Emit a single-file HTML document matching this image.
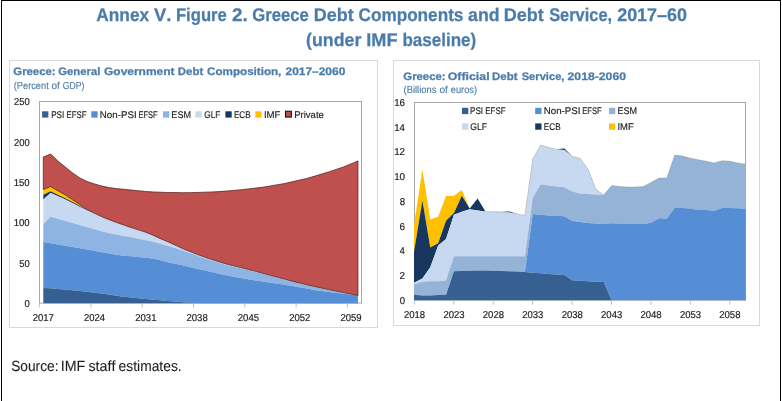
<!DOCTYPE html>
<html lang="en">
<head>
<meta charset="utf-8">
<title>Annex V. Figure 2. Greece Debt Components and Debt Service, 2017–60</title>
<style>
html,body{margin:0;padding:0;background:#fff;}
body{width:782px;height:401px;overflow:hidden;}
svg{display:block;font-family:"Liberation Sans",Arial,Helvetica,sans-serif;font-kerning:none;text-rendering:geometricPrecision;}
</style>
</head>
<body>
<svg width="782" height="401" viewBox="0 0 782 401">
<rect x="0" y="0" width="782" height="401" fill="#fff"/>
<rect x="1" y="0" width="1" height="401" fill="#000"/>
<rect x="780" y="0" width="1" height="401" fill="#000"/>
<rect x="1" y="0" width="780" height="1" fill="#000"/>
<text y="20.9" font-size="18.3" font-weight="bold" fill="#4A7BAA" stroke="#4A7BAA" stroke-width="0.25"><tspan x="96.37" textLength="52.76" lengthAdjust="spacingAndGlyphs">Annex</tspan> <tspan x="153.97" textLength="17.39" lengthAdjust="spacingAndGlyphs">V.</tspan> <tspan x="175.88" textLength="50.99" lengthAdjust="spacingAndGlyphs">Figure</tspan> <tspan x="232.05" textLength="15.76" lengthAdjust="spacingAndGlyphs">2.</tspan> <tspan x="252.22" textLength="56.55" lengthAdjust="spacingAndGlyphs">Greece</tspan> <tspan x="313.8" textLength="39.92" lengthAdjust="spacingAndGlyphs">Debt</tspan> <tspan x="358.5" textLength="104.91" lengthAdjust="spacingAndGlyphs">Components</tspan> <tspan x="468.08" textLength="31.49" lengthAdjust="spacingAndGlyphs">and</tspan> <tspan x="503.7" textLength="40.02" lengthAdjust="spacingAndGlyphs">Debt</tspan> <tspan x="549.13" textLength="62.97" lengthAdjust="spacingAndGlyphs">Service,</tspan> <tspan x="617.18" textLength="69.76" lengthAdjust="spacingAndGlyphs">2017–60</tspan></text>
<text y="45.9" font-size="18.3" font-weight="bold" fill="#4A7BAA" stroke="#4A7BAA" stroke-width="0.25"><tspan x="306.12" textLength="55.25" lengthAdjust="spacingAndGlyphs">(under</tspan> <tspan x="366.28" textLength="31.28" lengthAdjust="spacingAndGlyphs">IMF</tspan> <tspan x="402.38" textLength="73.87" lengthAdjust="spacingAndGlyphs">baseline)</tspan></text>
<rect x="9.5" y="60.5" width="368" height="267" fill="#fff" stroke="#D9D9D9" stroke-width="1"/>
<rect x="393.5" y="60.5" width="366" height="265" fill="#fff" stroke="#D9D9D9" stroke-width="1"/>
<text y="74.6" font-size="10.9" font-weight="bold" fill="#4A7BAA" stroke="#4A7BAA" stroke-width="0.25"><tspan x="13.33" textLength="42.26" lengthAdjust="spacingAndGlyphs">Greece:</tspan> <tspan x="58.34" textLength="41.96" lengthAdjust="spacingAndGlyphs">General</tspan> <tspan x="104.01" textLength="70.54" lengthAdjust="spacingAndGlyphs">Government</tspan> <tspan x="177.84" textLength="25.4" lengthAdjust="spacingAndGlyphs">Debt</tspan> <tspan x="207.12" textLength="74.25" lengthAdjust="spacingAndGlyphs">Composition,</tspan> <tspan x="285.49" textLength="59.8" lengthAdjust="spacingAndGlyphs">2017–2060</tspan></text>
<text y="89.2" font-size="10.1" fill="#4E7AA6" stroke="#4E7AA6" stroke-width="0.12"><tspan x="13.73" textLength="35.04" lengthAdjust="spacingAndGlyphs">(Percent</tspan> <tspan x="51.48" textLength="8.41" lengthAdjust="spacingAndGlyphs">of</tspan> <tspan x="62.76" textLength="21.67" lengthAdjust="spacingAndGlyphs">GDP)</tspan></text>
<text y="79.8" font-size="10.9" font-weight="bold" fill="#4A7BAA" stroke="#4A7BAA" stroke-width="0.25"><tspan x="403.33" textLength="42.26" lengthAdjust="spacingAndGlyphs">Greece:</tspan> <tspan x="447.79" textLength="41.78" lengthAdjust="spacingAndGlyphs">Official</tspan> <tspan x="492.03" textLength="25.51" lengthAdjust="spacingAndGlyphs">Debt</tspan> <tspan x="521.68" textLength="42.77" lengthAdjust="spacingAndGlyphs">Service,</tspan> <tspan x="567.58" textLength="58.42" lengthAdjust="spacingAndGlyphs">2018-2060</tspan></text>
<text y="92.7" font-size="10.1" fill="#4E7AA6" stroke="#4E7AA6" stroke-width="0.12"><tspan x="403.52" textLength="32.82" lengthAdjust="spacingAndGlyphs">(Billions</tspan> <tspan x="439.48" textLength="8.41" lengthAdjust="spacingAndGlyphs">of</tspan> <tspan x="450.81" textLength="26.27" lengthAdjust="spacingAndGlyphs">euros)</tspan></text>
<rect x="39.5" y="101.5" width="322" height="201.6" fill="#fff" stroke="#A8A8A8" stroke-width="1"/>
<polygon points="43.3,189.6 50.62,186.6 57.94,190.75 65.25,194.9 72.57,199.78 79.89,204.69 87.21,209.61 94.53,213.29 101.84,216.76 109.16,219.64 116.48,222.46 123.8,225.04 131.12,227.58 138.43,229.87 145.75,232.24 153.07,235.18 160.39,238.65 167.71,241.68 175.02,244.99 182.34,248.53 189.66,251.44 196.98,254.3 204.3,257.03 211.61,259.51 218.93,261.75 226.25,263.99 233.57,265.81 240.89,267.53 248.2,269.42 255.52,271.34 262.84,273.35 270.16,275.31 277.48,277.25 284.79,279.2 292.11,281.13 299.43,282.97 306.75,284.77 314.07,286.48 321.38,288.05 328.7,289.54 336.02,291.07 343.34,292.57 350.66,294.03 357.97,295.45 357.97,295.45 350.66,294.03 343.34,292.57 336.02,291.07 328.7,289.54 321.38,288.05 314.07,286.48 306.75,284.77 299.43,282.97 292.11,281.13 284.79,279.2 277.48,277.25 270.16,275.31 262.84,273.35 255.52,271.34 248.2,269.42 240.89,267.53 233.57,265.81 226.25,263.99 218.93,261.75 211.61,259.51 204.3,257.03 196.98,254.3 189.66,251.44 182.34,248.53 175.02,244.99 167.71,241.68 160.39,238.65 153.07,235.18 145.75,232.24 138.43,229.87 131.12,227.58 123.8,225.04 116.48,222.46 109.16,219.64 101.84,216.76 94.53,213.37 87.21,209.78 79.89,205.89 72.57,202.01 65.25,198.14 57.94,194.72 50.62,191.3 43.3,194.8" fill="#FFC000" />
<polygon points="43.3,194.8 50.62,191.3 57.94,194.72 65.25,198.14 72.57,202.01 79.89,205.89 87.21,209.78 94.53,213.37 101.84,216.76 109.16,219.64 116.48,222.46 123.8,225.04 131.12,227.58 138.43,229.87 145.75,232.24 153.07,235.18 160.39,238.65 167.71,241.68 175.02,244.99 182.34,248.53 189.66,251.44 196.98,254.3 204.3,257.03 211.61,259.51 218.93,261.75 226.25,263.99 233.57,265.81 240.89,267.53 248.2,269.42 255.52,271.34 262.84,273.35 270.16,275.31 277.48,277.25 284.79,279.2 292.11,281.13 299.43,282.97 306.75,284.77 314.07,286.48 321.38,288.05 328.7,289.54 336.02,291.07 343.34,292.57 350.66,294.03 357.97,295.45 357.97,295.45 350.66,294.03 343.34,292.57 336.02,291.07 328.7,289.54 321.38,288.05 314.07,286.48 306.75,284.77 299.43,282.97 292.11,281.13 284.79,279.2 277.48,277.25 270.16,275.31 262.84,273.35 255.52,271.34 248.2,269.42 240.89,267.53 233.57,265.81 226.25,263.99 218.93,261.75 211.61,259.51 204.3,257.03 196.98,254.3 189.66,251.44 182.34,248.53 175.02,244.99 167.71,241.68 160.39,238.65 153.07,235.18 145.75,232.24 138.43,229.87 131.12,227.58 123.8,225.04 116.48,222.46 109.16,219.64 101.84,216.76 94.53,213.62 87.21,210.38 79.89,206.99 72.57,203.26 65.25,199.54 57.94,196.22 50.62,192.9 43.3,199.5" fill="#17375E" />
<polygon points="43.3,199.5 50.62,192.9 57.94,196.22 65.25,199.54 72.57,203.26 79.89,206.99 87.21,210.38 94.53,213.62 101.84,216.76 109.16,219.64 116.48,222.46 123.8,225.04 131.12,227.58 138.43,229.87 145.75,232.24 153.07,235.18 160.39,238.65 167.71,241.68 175.02,244.99 182.34,248.53 189.66,251.44 196.98,254.3 204.3,257.03 211.61,259.51 218.93,261.75 226.25,263.99 233.57,265.81 240.89,267.53 248.2,269.42 255.52,271.34 262.84,273.35 270.16,275.31 277.48,277.25 284.79,279.2 292.11,281.13 299.43,282.97 306.75,284.77 314.07,286.48 321.38,288.05 328.7,289.54 336.02,291.07 343.34,292.57 350.66,294.03 357.97,295.45 357.97,295.45 350.66,294.21 343.34,292.83 336.02,291.37 328.7,289.84 321.38,288.41 314.07,286.88 306.75,285.17 299.43,283.41 292.11,281.62 284.79,279.7 277.48,277.75 270.16,275.81 262.84,273.87 255.52,271.92 248.2,270.05 240.89,268.22 233.57,266.62 226.25,264.91 218.93,262.74 211.61,260.57 204.3,258.16 196.98,255.52 189.66,253.07 182.34,250.61 175.02,248.12 167.71,245.65 160.39,243.65 153.07,241.65 145.75,240.21 138.43,238.78 131.12,237.36 123.8,235.93 116.48,234.53 109.16,233.21 101.84,231.26 94.53,229.2 87.21,227.13 79.89,225.06 72.57,223 65.25,220.93 57.94,218.87 50.62,216.8 43.3,224" fill="#C6D9F1" />
<polygon points="43.3,224 50.62,216.8 57.94,218.87 65.25,220.93 72.57,223 79.89,225.06 87.21,227.13 94.53,229.2 101.84,231.26 109.16,233.21 116.48,234.53 123.8,235.93 131.12,237.36 138.43,238.78 145.75,240.21 153.07,241.65 160.39,243.65 167.71,245.65 175.02,248.12 182.34,250.61 189.66,253.07 196.98,255.52 204.3,258.16 211.61,260.57 218.93,262.74 226.25,264.91 233.57,266.62 240.89,268.22 248.2,270.05 255.52,271.92 262.84,273.87 270.16,275.81 277.48,277.75 284.79,279.7 292.11,281.62 299.43,283.41 306.75,285.17 314.07,286.88 321.38,288.41 328.7,289.84 336.02,291.37 343.34,292.83 350.66,294.21 357.97,295.45 357.97,295.45 350.66,294.58 343.34,293.7 336.02,292.82 328.7,291.94 321.38,291.06 314.07,289.89 306.75,288.53 299.43,287.17 292.11,285.99 284.79,284.85 277.48,283.72 270.16,282.67 262.84,281.61 255.52,280.49 248.2,279.22 240.89,277.95 233.57,276.68 226.25,275.32 218.93,273.63 211.61,271.94 204.3,270.3 196.98,268.71 189.66,266.99 182.34,265.28 175.02,263.72 167.71,262.15 160.39,260.3 153.07,258.44 145.75,257.72 138.43,257.03 131.12,256.34 123.8,255.65 116.48,254.81 109.16,253.42 101.84,252.13 94.53,250.87 87.21,249.6 79.89,248.33 72.57,247.07 65.25,245.8 57.94,244.53 50.62,243.27 43.3,242" fill="#8EB4E3" />
<polygon points="43.3,242 50.62,243.27 57.94,244.53 65.25,245.8 72.57,247.07 79.89,248.33 87.21,249.6 94.53,250.87 101.84,252.13 109.16,253.42 116.48,254.81 123.8,255.65 131.12,256.34 138.43,257.03 145.75,257.72 153.07,258.44 160.39,260.3 167.71,262.15 175.02,263.72 182.34,265.28 189.66,266.99 196.98,268.71 204.3,270.3 211.61,271.94 218.93,273.63 226.25,275.32 233.57,276.68 240.89,277.95 248.2,279.22 255.52,280.49 262.84,281.61 270.16,282.67 277.48,283.72 284.79,284.85 292.11,285.99 299.43,287.17 306.75,288.53 314.07,289.89 321.38,291.06 328.7,291.94 336.02,292.82 343.34,293.7 350.66,294.58 357.97,295.45 357.97,303 350.66,303 343.34,303 336.02,303 328.7,303 321.38,303 314.07,303 306.75,303 299.43,303 292.11,303 284.79,303 277.48,303 270.16,303 262.84,303 255.52,303 248.2,303 240.89,303 233.57,303 226.25,303 218.93,303 211.61,303 204.3,303 196.98,303 189.66,302.64 182.34,302.25 175.02,301.6 167.71,300.95 160.39,300.3 153.07,299.65 145.75,299 138.43,298.28 131.12,297.5 123.8,296.72 116.48,295.81 109.16,294.42 101.84,293.5 94.53,292.68 87.21,291.85 79.89,291.03 72.57,290.2 65.25,289.57 57.94,288.93 50.62,288.3 43.3,287.9" fill="#558ED5" />
<polygon points="43.3,287.9 50.62,288.3 57.94,288.93 65.25,289.57 72.57,290.2 79.89,291.03 87.21,291.85 94.53,292.68 101.84,293.5 109.16,294.42 116.48,295.81 123.8,296.72 131.12,297.5 138.43,298.28 145.75,299 153.07,299.65 160.39,300.3 167.71,300.95 175.02,301.6 182.34,302.25 189.66,302.64 196.98,303 204.3,303 211.61,303 218.93,303 226.25,303 233.57,303 240.89,303 248.2,303 255.52,303 262.84,303 270.16,303 277.48,303 284.79,303 292.11,303 299.43,303 306.75,303 314.07,303 321.38,303 328.7,303 336.02,303 343.34,303 350.66,303 357.97,303 357.97,303.3 350.66,303.3 343.34,303.3 336.02,303.3 328.7,303.3 321.38,303.3 314.07,303.3 306.75,303.3 299.43,303.3 292.11,303.3 284.79,303.3 277.48,303.3 270.16,303.3 262.84,303.3 255.52,303.3 248.2,303.3 240.89,303.3 233.57,303.3 226.25,303.3 218.93,303.3 211.61,303.3 204.3,303.3 196.98,303.3 189.66,303.3 182.34,303.3 175.02,303.3 167.71,303.3 160.39,303.3 153.07,303.3 145.75,303.3 138.43,303.3 131.12,303.3 123.8,303.3 116.48,303.3 109.16,303.3 101.84,303.3 94.53,303.3 87.21,303.3 79.89,303.3 72.57,303.3 65.25,303.3 57.94,303.3 50.62,303.3 43.3,303.3" fill="#366092" />
<polygon points="43.3,157 50.62,154 57.94,161 65.25,167 72.57,172.9 79.89,178 87.21,181.6 94.53,183.9 101.84,186.1 109.16,187.6 116.48,188.6 123.8,189.32 131.12,190.04 138.43,190.76 145.75,191.48 153.07,191.91 160.39,192.21 167.71,192.5 175.02,192.62 182.34,192.68 189.66,192.63 196.98,192.45 204.3,192.19 211.61,191.93 218.93,191.62 226.25,191.03 233.57,190.43 240.89,189.8 248.2,188.93 255.52,188.07 262.84,187.21 270.16,185.95 277.48,184.69 284.79,183.44 292.11,181.78 299.43,180.11 306.75,178.44 314.07,176.31 321.38,174.09 328.7,171.88 336.02,169.45 343.34,166.97 350.66,163.99 357.97,160.88 357.97,295.45 350.66,294.03 343.34,292.57 336.02,291.07 328.7,289.54 321.38,288.05 314.07,286.48 306.75,284.77 299.43,282.97 292.11,281.13 284.79,279.2 277.48,277.25 270.16,275.31 262.84,273.35 255.52,271.34 248.2,269.42 240.89,267.53 233.57,265.81 226.25,263.99 218.93,261.75 211.61,259.51 204.3,257.03 196.98,254.3 189.66,251.44 182.34,248.53 175.02,244.99 167.71,241.68 160.39,238.65 153.07,235.18 145.75,232.24 138.43,229.87 131.12,227.58 123.8,225.04 116.48,222.46 109.16,219.64 101.84,216.76 94.53,213.29 87.21,209.61 79.89,204.69 72.57,199.78 65.25,194.9 57.94,190.75 50.62,186.6 43.3,189.6" fill="#C0504D" stroke="#4a1816" stroke-width="0.7" stroke-linejoin="round"/>
<line x1="39.6" y1="303" x2="39.6" y2="307.4" stroke="#B9BFC9" stroke-width="1"/>
<text x="32.63" y="321" font-size="10" textLength="21.26" lengthAdjust="spacingAndGlyphs" fill="#1c1c1c" stroke="#1c1c1c" stroke-width="0.18">2017</text>
<line x1="90.9" y1="303" x2="90.9" y2="307.4" stroke="#B9BFC9" stroke-width="1"/>
<text x="83.93" y="321" font-size="10" textLength="21.05" lengthAdjust="spacingAndGlyphs" fill="#1c1c1c" stroke="#1c1c1c" stroke-width="0.18">2024</text>
<line x1="142.2" y1="303" x2="142.2" y2="307.4" stroke="#B9BFC9" stroke-width="1"/>
<text x="135.23" y="321" font-size="10" textLength="21.25" lengthAdjust="spacingAndGlyphs" fill="#1c1c1c" stroke="#1c1c1c" stroke-width="0.18">2031</text>
<line x1="193.5" y1="303" x2="193.5" y2="307.4" stroke="#B9BFC9" stroke-width="1"/>
<text x="186.53" y="321" font-size="10" textLength="21.19" lengthAdjust="spacingAndGlyphs" fill="#1c1c1c" stroke="#1c1c1c" stroke-width="0.18">2038</text>
<line x1="244.8" y1="303" x2="244.8" y2="307.4" stroke="#B9BFC9" stroke-width="1"/>
<text x="237.83" y="321" font-size="10" textLength="21.18" lengthAdjust="spacingAndGlyphs" fill="#1c1c1c" stroke="#1c1c1c" stroke-width="0.18">2045</text>
<line x1="296.1" y1="303" x2="296.1" y2="307.4" stroke="#B9BFC9" stroke-width="1"/>
<text x="289.13" y="321" font-size="10" textLength="21.26" lengthAdjust="spacingAndGlyphs" fill="#1c1c1c" stroke="#1c1c1c" stroke-width="0.18">2052</text>
<line x1="347.4" y1="303" x2="347.4" y2="307.4" stroke="#B9BFC9" stroke-width="1"/>
<text x="340.43" y="321" font-size="10" textLength="21.23" lengthAdjust="spacingAndGlyphs" fill="#1c1c1c" stroke="#1c1c1c" stroke-width="0.18">2059</text>
<text x="24.38" y="306.9" font-size="10" textLength="5.29" lengthAdjust="spacingAndGlyphs" fill="#1c1c1c" stroke="#1c1c1c" stroke-width="0.18">0</text>
<text x="19.22" y="266.58" font-size="10" textLength="10.44" lengthAdjust="spacingAndGlyphs" fill="#1c1c1c" stroke="#1c1c1c" stroke-width="0.18">50</text>
<text x="13.72" y="226.26" font-size="10" textLength="15.95" lengthAdjust="spacingAndGlyphs" fill="#1c1c1c" stroke="#1c1c1c" stroke-width="0.18">100</text>
<text x="13.72" y="185.94" font-size="10" textLength="15.95" lengthAdjust="spacingAndGlyphs" fill="#1c1c1c" stroke="#1c1c1c" stroke-width="0.18">150</text>
<text x="13.98" y="145.62" font-size="10" textLength="15.69" lengthAdjust="spacingAndGlyphs" fill="#1c1c1c" stroke="#1c1c1c" stroke-width="0.18">200</text>
<text x="13.98" y="105.3" font-size="10" textLength="15.69" lengthAdjust="spacingAndGlyphs" fill="#1c1c1c" stroke="#1c1c1c" stroke-width="0.18">250</text>
<rect x="42.1" y="111.3" width="6.3" height="6.3" fill="#366092" /><text y="117.8" font-size="9.7" fill="#1c1c1c" stroke="#1c1c1c" stroke-width="0.15"><tspan x="51.13" textLength="13.12" lengthAdjust="spacingAndGlyphs">PSI</tspan> <tspan x="66.46" textLength="19.95" lengthAdjust="spacingAndGlyphs">EFSF</tspan></text>
<rect x="91.3" y="111.3" width="6.3" height="6.3" fill="#558ED5" /><text y="117.8" font-size="9.7" fill="#1c1c1c" stroke="#1c1c1c" stroke-width="0.15"><tspan x="99.8" textLength="36.8" lengthAdjust="spacingAndGlyphs">Non-PSI</tspan> <tspan x="138.38" textLength="19.32" lengthAdjust="spacingAndGlyphs">EFSF</tspan></text>
<rect x="163" y="111.3" width="6.3" height="6.3" fill="#8EB4E3" /><text x="171.35" y="117.8" font-size="9.7" textLength="19.69" lengthAdjust="spacingAndGlyphs" fill="#1c1c1c" stroke="#1c1c1c" stroke-width="0.15">ESM</text>
<rect x="195.4" y="111.3" width="6.3" height="6.3" fill="#C6D9F1" /><text x="204.28" y="117.8" font-size="9.7" textLength="16.15" lengthAdjust="spacingAndGlyphs" fill="#1c1c1c" stroke="#1c1c1c" stroke-width="0.15">GLF</text>
<rect x="225.4" y="111.3" width="6.3" height="6.3" fill="#17375E" /><text x="233.93" y="117.8" font-size="9.7" textLength="16.69" lengthAdjust="spacingAndGlyphs" fill="#1c1c1c" stroke="#1c1c1c" stroke-width="0.15">ECB</text>
<rect x="255.3" y="111.3" width="6.3" height="6.3" fill="#FFC000" /><text x="263.91" y="117.8" font-size="9.7" textLength="16.57" lengthAdjust="spacingAndGlyphs" fill="#1c1c1c" stroke="#1c1c1c" stroke-width="0.15">IMF</text>
<rect x="285.55" y="111.25" width="5.8" height="5.8" fill="#C0504D" stroke="#1c0d0d" stroke-width="1.1"/><text x="294.22" y="117.9" font-size="9.7" textLength="29.6" lengthAdjust="spacingAndGlyphs" fill="#1c1c1c" stroke="#1c1c1c" stroke-width="0.15">Private</text>
<rect x="414.5" y="102.5" width="331" height="197.6" fill="#fff" stroke="#A8A8A8" stroke-width="1"/>
<polygon points="414,225 422.39,169.6 430.27,219.5 438.16,216.8 446.04,196.1 453.93,195.7 461.82,190 469.7,208.4 477.59,198.4 485.47,211.4 493.36,211.75 501.25,212.1 509.13,211.5 517.02,213.9 524.9,215.3 532.79,158.9 540.68,145 548.56,147.4 556.45,149.4 564.33,148.5 572.22,156.4 580.11,158.4 587.99,169.1 595.88,189.3 603.76,195.1 611.65,185.5 619.54,186.5 627.42,187 635.31,187 643.19,186.5 651.08,182.4 658.97,178.1 666.85,178.1 674.74,155 682.62,156.1 690.51,158.2 698.4,159.8 706.28,161.3 714.17,163 722.05,160.7 729.94,161.3 737.83,163 745.71,164.2 745.71,164.2 737.83,163 729.94,161.3 722.05,160.7 714.17,163 706.28,161.3 698.4,159.8 690.51,158.2 682.62,156.1 674.74,155 666.85,178.1 658.97,178.1 651.08,182.4 643.19,186.5 635.31,187 627.42,187 619.54,186.5 611.65,185.5 603.76,195.1 595.88,189.3 587.99,169.1 580.11,158.4 572.22,156.4 564.33,148.5 556.45,149.4 548.56,147.4 540.68,145 532.79,158.9 524.9,215.3 517.02,213.9 509.13,211.5 501.25,212.1 493.36,211.75 485.47,211.4 477.59,198.4 469.7,208.6 461.82,195.7 453.93,213 446.04,220.7 438.16,243.2 430.27,247.4 422.39,200.5 414,252" fill="#FFC000" />
<polygon points="414,252 422.39,200.5 430.27,247.4 438.16,243.2 446.04,220.7 453.93,213 461.82,195.7 469.7,208.6 477.59,198.4 485.47,211.4 493.36,211.75 501.25,212.1 509.13,211.5 517.02,213.9 524.9,215.3 532.79,158.9 540.68,145 548.56,147.4 556.45,149.4 564.33,148.5 572.22,156.4 580.11,158.4 587.99,169.1 595.88,189.3 603.76,195.1 611.65,185.5 619.54,186.5 627.42,187 635.31,187 643.19,186.5 651.08,182.4 658.97,178.1 666.85,178.1 674.74,155 682.62,156.1 690.51,158.2 698.4,159.8 706.28,161.3 714.17,163 722.05,160.7 729.94,161.3 737.83,163 745.71,164.2 745.71,164.2 737.83,163 729.94,161.3 722.05,160.7 714.17,163 706.28,161.3 698.4,159.8 690.51,158.2 682.62,156.1 674.74,155 666.85,178.1 658.97,178.1 651.08,182.4 643.19,186.5 635.31,187 627.42,187 619.54,186.5 611.65,185.5 603.76,195.1 595.88,189.3 587.99,169.1 580.11,158.4 572.22,156.4 564.33,150 556.45,149.4 548.56,147.4 540.68,145 532.79,158.9 524.9,215.3 517.02,213.9 509.13,212.5 501.25,212.17 493.36,211.83 485.47,211.5 477.59,210.4 469.7,209.3 461.82,211.8 453.93,214.8 446.04,239 438.16,245.6 430.27,267.3 422.39,278.6 414,282.8" fill="#17375E" />
<polygon points="414,282.8 422.39,278.6 430.27,267.3 438.16,245.6 446.04,239 453.93,214.8 461.82,211.8 469.7,209.3 477.59,210.4 485.47,211.5 493.36,211.83 501.25,212.17 509.13,212.5 517.02,213.9 524.9,215.3 532.79,158.9 540.68,145 548.56,147.4 556.45,149.4 564.33,150 572.22,156.4 580.11,158.4 587.99,169.1 595.88,189.3 603.76,195.1 611.65,185.5 619.54,186.5 627.42,187 635.31,187 643.19,186.5 651.08,182.4 658.97,178.1 666.85,178.1 674.74,155 682.62,156.1 690.51,158.2 698.4,159.8 706.28,161.3 714.17,163 722.05,160.7 729.94,161.3 737.83,163 745.71,164.2 745.71,164.2 737.83,163 729.94,161.3 722.05,160.7 714.17,163 706.28,161.3 698.4,159.8 690.51,158.2 682.62,156.1 674.74,155 666.85,178.1 658.97,178.1 651.08,182.4 643.19,186.5 635.31,187 627.42,187 619.54,186.5 611.65,185.5 603.76,195.1 595.88,194.6 587.99,193.9 580.11,193.4 572.22,191.4 564.33,187.3 556.45,186.5 548.56,185.4 540.68,184.2 532.79,197.8 524.9,256.2 517.02,256.2 509.13,256.2 501.25,256.2 493.36,256.2 485.47,256.2 477.59,256.2 469.7,256.2 461.82,256.2 453.93,256.2 446.04,280.4 438.16,281.3 430.27,281.3 422.39,281.8 414,284.6" fill="#C6D9F1" />
<polygon points="414,284.6 422.39,281.8 430.27,281.3 438.16,281.3 446.04,280.4 453.93,256.2 461.82,256.2 469.7,256.2 477.59,256.2 485.47,256.2 493.36,256.2 501.25,256.2 509.13,256.2 517.02,256.2 524.9,256.2 532.79,197.8 540.68,184.2 548.56,185.4 556.45,186.5 564.33,187.3 572.22,191.4 580.11,193.4 587.99,193.9 595.88,194.6 603.76,195.1 611.65,185.5 619.54,186.5 627.42,187 635.31,187 643.19,186.5 651.08,182.4 658.97,178.1 666.85,178.1 674.74,155 682.62,156.1 690.51,158.2 698.4,159.8 706.28,161.3 714.17,163 722.05,160.7 729.94,161.3 737.83,163 745.71,164.2 745.71,208.8 737.83,208.2 729.94,208.1 722.05,208.1 714.17,210.7 706.28,210.1 698.4,210.1 690.51,208.6 682.62,208.1 674.74,208.1 666.85,218.4 658.97,218.3 651.08,222.8 643.19,224 635.31,224 627.42,223.6 619.54,223.4 611.65,223.3 603.76,223.9 595.88,223.5 587.99,222.9 580.11,222 572.22,220.9 564.33,216.3 556.45,215.7 548.56,215.4 540.68,214.8 532.79,214.1 524.9,271.9 517.02,271.6 509.13,271.3 501.25,271 493.36,270.7 485.47,270.4 477.59,270.6 469.7,270.8 461.82,271 453.93,271.2 446.04,294.7 438.16,295 430.27,295.6 422.39,295.6 414,294.7" fill="#95B3D7" />
<polygon points="414,294.7 422.39,295.6 430.27,295.6 438.16,295 446.04,294.7 453.93,271.2 461.82,271 469.7,270.8 477.59,270.6 485.47,270.4 493.36,270.7 501.25,271 509.13,271.3 517.02,271.6 524.9,271.9 532.79,214.1 540.68,214.8 548.56,215.4 556.45,215.7 564.33,216.3 572.22,220.9 580.11,222 587.99,222.9 595.88,223.5 603.76,223.9 611.65,223.3 619.54,223.4 627.42,223.6 635.31,224 643.19,224 651.08,222.8 658.97,218.3 666.85,218.4 674.74,208.1 682.62,208.1 690.51,208.6 698.4,210.1 706.28,210.1 714.17,210.7 722.05,208.1 729.94,208.1 737.83,208.2 745.71,208.8 745.71,300.3 737.83,300.3 729.94,300.3 722.05,300.3 714.17,300.3 706.28,300.3 698.4,300.3 690.51,300.3 682.62,300.3 674.74,300.3 666.85,300.3 658.97,300.3 651.08,300.3 643.19,300.3 635.31,300.3 627.42,300.3 619.54,300.3 611.65,300.3 603.76,282.1 595.88,281.8 587.99,281.3 580.11,280.8 572.22,280.2 564.33,274.9 556.45,274.4 548.56,274 540.68,273.3 532.79,272.7 524.9,271.9 517.02,271.6 509.13,271.3 501.25,271 493.36,270.7 485.47,270.4 477.59,270.6 469.7,270.8 461.82,271 453.93,271.2 446.04,294.7 438.16,295 430.27,295.6 422.39,295.6 414,294.7" fill="#558ED5" />
<polygon points="414,294.7 422.39,295.6 430.27,295.6 438.16,295 446.04,294.7 453.93,271.2 461.82,271 469.7,270.8 477.59,270.6 485.47,270.4 493.36,270.7 501.25,271 509.13,271.3 517.02,271.6 524.9,271.9 532.79,272.7 540.68,273.3 548.56,274 556.45,274.4 564.33,274.9 572.22,280.2 580.11,280.8 587.99,281.3 595.88,281.8 603.76,282.1 611.65,300.3 619.54,300.3 627.42,300.3 635.31,300.3 643.19,300.3 651.08,300.3 658.97,300.3 666.85,300.3 674.74,300.3 682.62,300.3 690.51,300.3 698.4,300.3 706.28,300.3 714.17,300.3 722.05,300.3 729.94,300.3 737.83,300.3 745.71,300.3 745.71,300.3 737.83,300.3 729.94,300.3 722.05,300.3 714.17,300.3 706.28,300.3 698.4,300.3 690.51,300.3 682.62,300.3 674.74,300.3 666.85,300.3 658.97,300.3 651.08,300.3 643.19,300.3 635.31,300.3 627.42,300.3 619.54,300.3 611.65,300.3 603.76,300.3 595.88,300.3 587.99,300.3 580.11,300.3 572.22,300.3 564.33,300.3 556.45,300.3 548.56,300.3 540.68,300.3 532.79,300.3 524.9,300.3 517.02,300.3 509.13,300.3 501.25,300.3 493.36,300.3 485.47,300.3 477.59,300.3 469.7,300.3 461.82,300.3 453.93,300.3 446.04,300.3 438.16,300.3 430.27,300.3 422.39,300.3 414,300.3" fill="#366092" />
<polyline points="485.47,211.4 493.36,211.75 501.25,212.1 509.13,211.5 517.02,213.9 524.9,215.3 532.79,158.9 540.68,145 548.56,147.4 556.45,149.4 564.33,148.5 572.22,156.4 580.11,158.4 587.99,169.1 595.88,189.3 603.76,195.1 611.65,185.5 619.54,186.5 627.42,187 635.31,187 643.19,186.5 651.08,182.4 658.97,178.1 666.85,178.1 674.74,155 682.62,156.1 690.51,158.2 698.4,159.8 706.28,161.3 714.17,163 722.05,160.7 729.94,161.3 737.83,163 745.71,164.2" fill="none" stroke="#85807a" stroke-width="0.5" opacity="0.7"/>
<line x1="414.4" y1="300.3" x2="414.4" y2="304.6" stroke="#B9BFC9" stroke-width="1"/>
<text x="403.97" y="318.2" font-size="10" textLength="21.19" lengthAdjust="spacingAndGlyphs" fill="#1c1c1c" stroke="#1c1c1c" stroke-width="0.18">2018</text>
<line x1="453.81" y1="300.3" x2="453.81" y2="304.6" stroke="#B9BFC9" stroke-width="1"/>
<text x="443.39" y="318.2" font-size="10" textLength="21.2" lengthAdjust="spacingAndGlyphs" fill="#1c1c1c" stroke="#1c1c1c" stroke-width="0.18">2023</text>
<line x1="493.23" y1="300.3" x2="493.23" y2="304.6" stroke="#B9BFC9" stroke-width="1"/>
<text x="482.8" y="318.2" font-size="10" textLength="21.19" lengthAdjust="spacingAndGlyphs" fill="#1c1c1c" stroke="#1c1c1c" stroke-width="0.18">2028</text>
<line x1="532.64" y1="300.3" x2="532.64" y2="304.6" stroke="#B9BFC9" stroke-width="1"/>
<text x="522.22" y="318.2" font-size="10" textLength="21.2" lengthAdjust="spacingAndGlyphs" fill="#1c1c1c" stroke="#1c1c1c" stroke-width="0.18">2033</text>
<line x1="572.06" y1="300.3" x2="572.06" y2="304.6" stroke="#B9BFC9" stroke-width="1"/>
<text x="561.63" y="318.2" font-size="10" textLength="21.19" lengthAdjust="spacingAndGlyphs" fill="#1c1c1c" stroke="#1c1c1c" stroke-width="0.18">2038</text>
<line x1="611.47" y1="300.3" x2="611.47" y2="304.6" stroke="#B9BFC9" stroke-width="1"/>
<text x="601.05" y="318.2" font-size="10" textLength="21.2" lengthAdjust="spacingAndGlyphs" fill="#1c1c1c" stroke="#1c1c1c" stroke-width="0.18">2043</text>
<line x1="650.89" y1="300.3" x2="650.89" y2="304.6" stroke="#B9BFC9" stroke-width="1"/>
<text x="640.46" y="318.2" font-size="10" textLength="21.19" lengthAdjust="spacingAndGlyphs" fill="#1c1c1c" stroke="#1c1c1c" stroke-width="0.18">2048</text>
<line x1="690.3" y1="300.3" x2="690.3" y2="304.6" stroke="#B9BFC9" stroke-width="1"/>
<text x="679.88" y="318.2" font-size="10" textLength="21.2" lengthAdjust="spacingAndGlyphs" fill="#1c1c1c" stroke="#1c1c1c" stroke-width="0.18">2053</text>
<line x1="729.72" y1="300.3" x2="729.72" y2="304.6" stroke="#B9BFC9" stroke-width="1"/>
<text x="719.29" y="318.2" font-size="10" textLength="21.19" lengthAdjust="spacingAndGlyphs" fill="#1c1c1c" stroke="#1c1c1c" stroke-width="0.18">2058</text>
<text x="399.68" y="303.8" font-size="10" textLength="5.29" lengthAdjust="spacingAndGlyphs" fill="#1c1c1c" stroke="#1c1c1c" stroke-width="0.18">0</text>
<text x="399.55" y="279.08" font-size="10" textLength="5.55" lengthAdjust="spacingAndGlyphs" fill="#1c1c1c" stroke="#1c1c1c" stroke-width="0.18">2</text>
<text x="399.84" y="254.36" font-size="10" textLength="5.02" lengthAdjust="spacingAndGlyphs" fill="#1c1c1c" stroke="#1c1c1c" stroke-width="0.18">4</text>
<text x="399.55" y="229.64" font-size="10" textLength="5.48" lengthAdjust="spacingAndGlyphs" fill="#1c1c1c" stroke="#1c1c1c" stroke-width="0.18">6</text>
<text x="399.63" y="204.92" font-size="10" textLength="5.39" lengthAdjust="spacingAndGlyphs" fill="#1c1c1c" stroke="#1c1c1c" stroke-width="0.18">8</text>
<text x="394.16" y="180.2" font-size="10" textLength="10.82" lengthAdjust="spacingAndGlyphs" fill="#1c1c1c" stroke="#1c1c1c" stroke-width="0.18">10</text>
<text x="394.15" y="155.48" font-size="10" textLength="10.94" lengthAdjust="spacingAndGlyphs" fill="#1c1c1c" stroke="#1c1c1c" stroke-width="0.18">12</text>
<text x="394.17" y="130.76" font-size="10" textLength="10.72" lengthAdjust="spacingAndGlyphs" fill="#1c1c1c" stroke="#1c1c1c" stroke-width="0.18">14</text>
<text x="394.16" y="106.04" font-size="10" textLength="10.87" lengthAdjust="spacingAndGlyphs" fill="#1c1c1c" stroke="#1c1c1c" stroke-width="0.18">16</text>
<rect x="462" y="107.8" width="6.3" height="6.3" fill="#366092" /><text y="114" font-size="9.7" fill="#1c1c1c" stroke="#1c1c1c" stroke-width="0.15"><tspan x="470.03" textLength="13.12" lengthAdjust="spacingAndGlyphs">PSI</tspan> <tspan x="485.35" textLength="20.16" lengthAdjust="spacingAndGlyphs">EFSF</tspan></text>
<rect x="535.2" y="107.8" width="6.3" height="6.3" fill="#558ED5" /><text y="114" font-size="9.7" fill="#1c1c1c" stroke="#1c1c1c" stroke-width="0.15"><tspan x="543.7" textLength="36.8" lengthAdjust="spacingAndGlyphs">Non-PSI</tspan> <tspan x="582.28" textLength="19.43" lengthAdjust="spacingAndGlyphs">EFSF</tspan></text>
<rect x="609" y="107.8" width="6.3" height="6.3" fill="#95B3D7" /><text x="617.56" y="114" font-size="9.7" textLength="19.58" lengthAdjust="spacingAndGlyphs" fill="#1c1c1c" stroke="#1c1c1c" stroke-width="0.15">ESM</text>
<rect x="462" y="123.4" width="6.3" height="6.3" fill="#C6D9F1" /><text x="470.27" y="129.9" font-size="9.7" textLength="16.78" lengthAdjust="spacingAndGlyphs" fill="#1c1c1c" stroke="#1c1c1c" stroke-width="0.15">GLF</text>
<rect x="535.2" y="123.4" width="6.3" height="6.3" fill="#17375E" /><text x="543.83" y="129.9" font-size="9.7" textLength="16.8" lengthAdjust="spacingAndGlyphs" fill="#1c1c1c" stroke="#1c1c1c" stroke-width="0.15">ECB</text>
<rect x="609" y="123.4" width="6.3" height="6.3" fill="#FFC000" /><text x="617.43" y="129.9" font-size="9.7" textLength="16.25" lengthAdjust="spacingAndGlyphs" fill="#1c1c1c" stroke="#1c1c1c" stroke-width="0.15">IMF</text>
<text y="371" font-size="14.8" fill="#1f1f1f" stroke="#1f1f1f" stroke-width="0.1"><tspan x="11.18" textLength="47.28" lengthAdjust="spacingAndGlyphs">Source:</tspan> <tspan x="60.79" textLength="24.48" lengthAdjust="spacingAndGlyphs">IMF</tspan> <tspan x="88.4" textLength="27.08" lengthAdjust="spacingAndGlyphs">staff</tspan> <tspan x="118.61" textLength="63.05" lengthAdjust="spacingAndGlyphs">estimates.</tspan></text>
</svg>
</body>
</html>
